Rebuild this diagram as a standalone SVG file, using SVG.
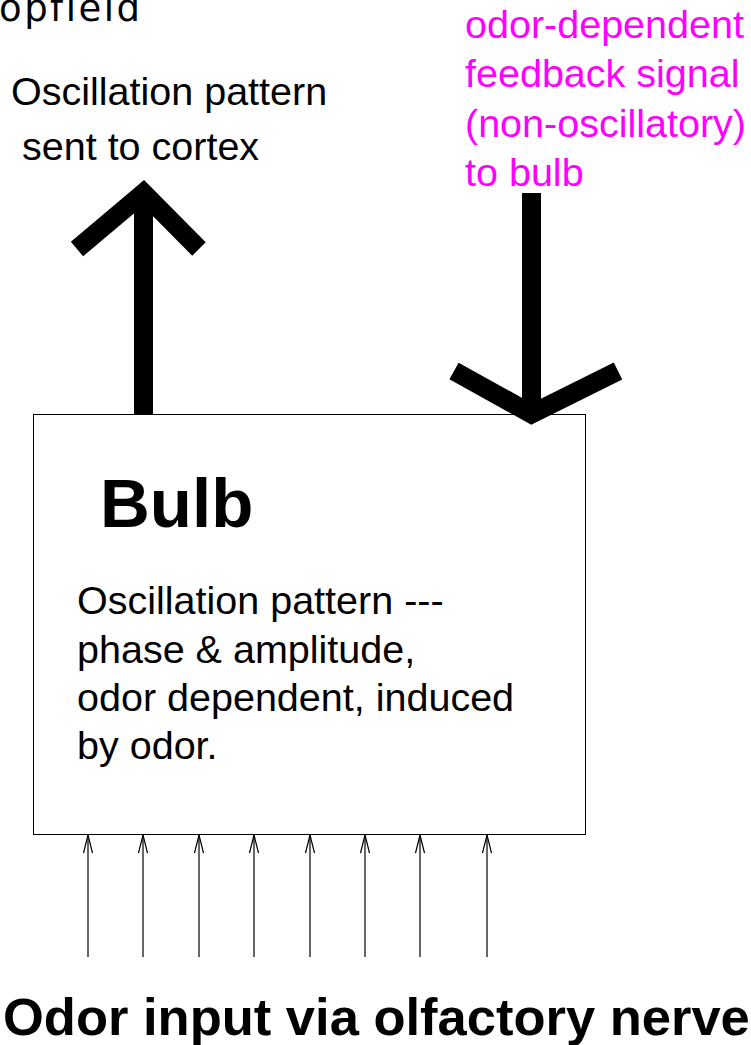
<svg xmlns="http://www.w3.org/2000/svg" width="751" height="1045" viewBox="0 0 751 1045">
  <style>
    .txt { font-family: "Liberation Sans", Arial, sans-serif; font-size: 39.5px; fill: #000; }
    .mag { fill: #ff00ff; }
    .bold { font-weight: bold; }
    .thick { fill: none; stroke: #000; stroke-width: 19; stroke-linejoin: miter; stroke-miterlimit: 10; stroke-linecap: butt; }
    .thin { fill: none; stroke: #000; stroke-width: 1.2; }
  </style>
  <defs>
    <!-- open V arrowhead, tip at the end of the line -->
    <marker id="openHead" viewBox="0 0 20 10" refX="19" refY="5" markerWidth="20" markerHeight="10" markerUnits="userSpaceOnUse" orient="auto">
      <path d="M1,0.5 L19,5 L1,9.5" fill="none" stroke="#000" stroke-width="1.2"/>
    </marker>
  </defs>

  <rect width="751" height="1045" fill="#fff"/>

  <!-- partially visible heading at the top edge -->
  <text id="heading" x="-1" y="21" style="font-family: 'DejaVu Sans', sans-serif; font-size: 37px; letter-spacing: 2.5px;" fill="#000">opfield</text>

  <!-- output label -->
  <g id="output-label">
    <text class="txt" x="11" y="105">Oscillation pattern</text>
    <text class="txt" x="22" y="160">sent to cortex</text>
  </g>

  <!-- feedback label -->
  <g id="feedback-label">
    <text class="txt mag" x="465" y="38">odor-dependent</text>
    <text class="txt mag" x="465" y="87">feedback signal</text>
    <text class="txt mag" x="465" y="137">(non-oscillatory)</text>
    <text class="txt mag" x="465" y="186">to bulb</text>
  </g>

  <!-- bulb node -->
  <g id="bulb">
    <rect x="33.5" y="414.5" width="552" height="420" fill="#fff" stroke="#000" stroke-width="1"/>
    <text class="txt bold" x="100" y="527" style="font-size: 69px;">Bulb</text>
    <text class="txt" x="77" y="614">Oscillation pattern ---</text>
    <text class="txt" x="77" y="663">phase &amp; amplitude,</text>
    <text class="txt" x="77" y="711">odor dependent, induced</text>
    <text class="txt" x="77" y="759">by odor.</text>
  </g>

  <!-- input label -->
  <g id="input-label">
    <text class="txt bold" x="3" y="1035" style="font-size: 52.5px;">Odor input via olfactory nerve</text>
  </g>

  <!-- connectors -->
  <g id="connectors">
    <!-- upward output arrow -->
    <line class="thick" x1="143.5" y1="414" x2="143.5" y2="193"/>
    <polyline class="thick" points="77,249 143.5,193 199,249"/>
    <!-- downward feedback arrow -->
    <line class="thick" x1="531.5" y1="193" x2="531.5" y2="414"/>
    <polyline class="thick" points="454,371 531.5,414 618,371"/>
    <!-- nerve input arrows -->
    <line class="thin" x1="88" y1="957" x2="88" y2="835" marker-end="url(#openHead)"/>
    <line class="thin" x1="143" y1="957" x2="143" y2="835" marker-end="url(#openHead)"/>
    <line class="thin" x1="199" y1="957" x2="199" y2="835" marker-end="url(#openHead)"/>
    <line class="thin" x1="254" y1="957" x2="254" y2="835" marker-end="url(#openHead)"/>
    <line class="thin" x1="310" y1="957" x2="310" y2="835" marker-end="url(#openHead)"/>
    <line class="thin" x1="365" y1="957" x2="365" y2="835" marker-end="url(#openHead)"/>
    <line class="thin" x1="420" y1="957" x2="420" y2="835" marker-end="url(#openHead)"/>
    <line class="thin" x1="487" y1="957" x2="487" y2="835" marker-end="url(#openHead)"/>
  </g>
</svg>
